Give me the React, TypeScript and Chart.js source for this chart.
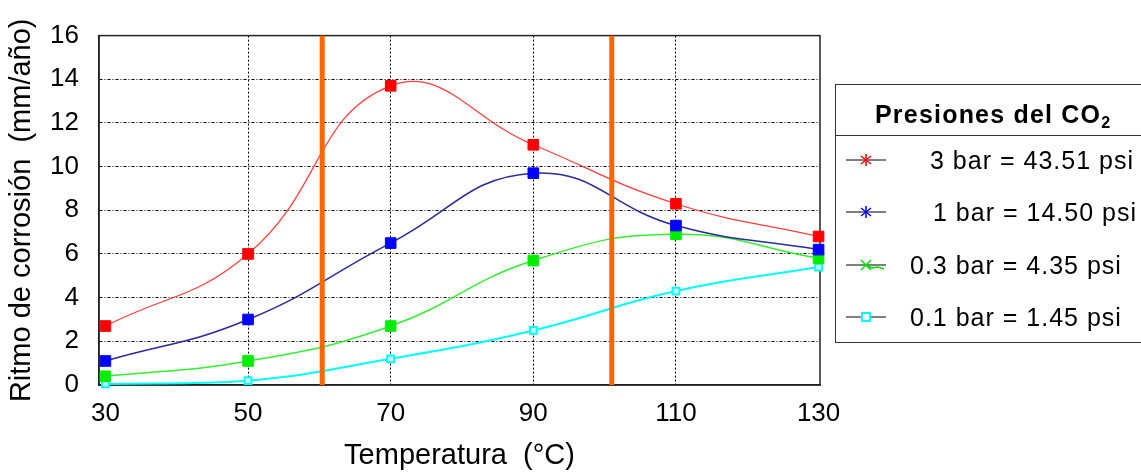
import React, { useEffect, useRef } from "react";
import { Chart, registerables } from "chart.js";

Chart.register(...registerables);

const temperatures = [30, 50, 70, 90, 110, 130];
const rate3bar = [2.7, 6.0, 13.7, 11.0, 8.3, 6.8];
const rate1bar = [1.1, 3.0, 6.5, 9.7, 7.3, 6.2];
const rate03bar = [0.4, 1.1, 2.7, 5.7, 6.9, 5.8];
const rate01bar = [0.05, 0.2, 1.2, 2.5, 4.3, 5.4];
const bandLimits = [60.4, 101];
const xTicks = [30, 50, 70, 90, 110, 130];
const yTicks = [0, 2, 4, 6, 8, 10, 12, 14, 16];
const seriesLabels = ["3 bar = 43.51 psi", "1 bar = 14.50 psi", "0.3 bar = 4.35 psi", "0.1 bar = 1.45 psi"];
const legendTitle = "Presiones del CO";
const legendTitleSub = "2";
const xTitle = "Temperatura  (°C)";
const yTitle = "Ritmo de corrosión  (mm/año)";

const FONT = "'Liberation Sans', Arial, Helvetica, sans-serif";

const boxPlugin = {
  id: "plotBox",
  beforeDatasetsDraw(chart: any) {
    const { ctx, chartArea } = chart;
    const { left, top, right, bottom } = chartArea;
    ctx.save();
    ctx.strokeStyle = "#222";
    ctx.lineWidth = 1.5;
    ctx.strokeRect(left, top, right - left, bottom - top);
    ctx.restore();
  },
};

function LegendSymbol({ kind }: { kind: number }) {
  const colors = ["#ff0000", "#0000ff", "#00dd00", "#00ffff"];
  const c = colors[kind];
  return (
    <svg width={40} height={20} style={{ display: "block" }}>
      <line x1={0} y1={10} x2={40} y2={10} stroke="#000" strokeWidth={1} />
      {kind < 2 && (
        <g stroke={c} strokeWidth={1.5}>
          <line x1={20} y1={4} x2={20} y2={16} />
          <line x1={15} y1={6} x2={25} y2={14} />
          <line x1={15} y1={14} x2={25} y2={6} />
        </g>
      )}
      {kind === 2 && (
        <g stroke={c} strokeWidth={1.5} fill="none">
          <line x1={15} y1={5} x2={25} y2={15} />
          <line x1={15} y1={15} x2={25} y2={5} />
          <polyline points="20,10 26,13 32,12 38,14" />
        </g>
      )}
      {kind === 3 && <rect x={16} y={6} width={8} height={8} fill="#fff" stroke={c} strokeWidth={2} />}
    </svg>
  );
}

export default function App() {
  const ref = useRef<HTMLCanvasElement>(null);

  useEffect(() => {
    const canvas = ref.current;
    if (!canvas) return;
    const mk = (arr: number[]) => temperatures.map((t, i) => ({ x: t, y: arr[i] }));
    const series = [
      { data: rate3bar, line: "#ff3b3b", point: "#ff0000", width: 1.2 },
      { data: rate1bar, line: "#2b2b99", point: "#0000ff", width: 1.5 },
      { data: rate03bar, line: "#33ee33", point: "#00ee00", width: 1.5 },
    ];
    const chart = new Chart(canvas, {
      type: "line",
      data: {
        datasets: [
          ...bandLimits.map((v) => ({
            label: "limit",
            data: [
              { x: v, y: yTicks[0] },
              { x: v, y: yTicks[yTicks.length - 1] },
            ],
            borderColor: "#ff6600",
            borderWidth: 5,
            pointRadius: 0,
            tension: 0,
            borderCapStyle: "butt" as const,
            order: 0,
          })),
          ...series.map((s, i) => ({
            label: seriesLabels[i],
            data: mk(s.data),
            borderColor: s.line,
            borderWidth: s.width,
            pointStyle: "rect" as const,
            pointRadius: 7.5,
            pointBackgroundColor: s.point,
            pointBorderColor: s.point,
            pointBorderWidth: 1,
            tension: 0.45,
            clip: false as any,
            order: 1 + i,
          })),
          {
            label: seriesLabels[3],
            data: mk(rate01bar),
            borderColor: "#00ffff",
            borderWidth: 2,
            pointStyle: "rect" as const,
            pointRadius: 4.8,
            pointBackgroundColor: "#ccffff",
            pointBorderColor: "#00ffff",
            pointBorderWidth: 2,
            tension: 0.45,
            clip: false as any,
            order: 4,
          },
        ],
      },
      options: {
        animation: false,
        responsive: false,
        devicePixelRatio: 1,
        layout: { padding: { left: 0, top: 33, right: 321, bottom: 0 } },
        plugins: { legend: { display: false }, tooltip: { enabled: false } },
        scales: {
          x: {
            type: "linear",
            min: 29.1,
            max: 130.2,
            afterBuildTicks: (s: any) => {
              s.ticks = xTicks.map((v) => ({ value: v }));
            },
            afterFit: (s: any) => {
              s.height = 88;
            },
            grid: {
              drawTicks: false,
              lineWidth: 1,
              color: (c: any) =>
                c.tick && (c.tick.value === xTicks[0] || c.tick.value === xTicks[xTicks.length - 1])
                  ? "rgba(0,0,0,0)"
                  : "#000",
            },
            border: { display: true, color: "#222", width: 1.5, dash: [2, 2] },
            ticks: {
              color: "#000",
              padding: 13,
              font: { family: FONT, size: 26 },
              maxRotation: 0,
              autoSkip: false,
            },
            title: {
              display: true,
              text: xTitle,
              color: "#000",
              font: { family: FONT, size: 29 },
              padding: { top: 0, bottom: 0 },
            },
          },
          y: {
            type: "linear",
            min: yTicks[0],
            max: yTicks[yTicks.length - 1],
            afterBuildTicks: (s: any) => {
              s.ticks = yTicks.map((v) => ({ value: v }));
            },
            afterFit: (s: any) => {
              s.width = 99;
            },
            grid: {
              drawTicks: false,
              lineWidth: 1,
              color: (c: any) =>
                c.tick && (c.tick.value === yTicks[0] || c.tick.value === yTicks[yTicks.length - 1])
                  ? "rgba(0,0,0,0)"
                  : "#000",
            },
            border: { display: true, color: "#222", width: 1.5, dash: [3, 2, 1, 2] },
            ticks: {
              color: "#000",
              padding: 20,
              font: { family: FONT, size: 26 },
            },
            title: {
              display: true,
              text: yTitle,
              color: "#000",
              font: { family: FONT, size: 29 },
              padding: { top: 5, bottom: 0 },
            },
          },
        },
      },
      plugins: [boxPlugin],
    } as any);
    return () => chart.destroy();
  }, []);

  const rowTops = [148, 200, 253, 305];
  const rowLefts = [930, 933, 910, 910];

  return (
    <div
      style={{
        position: "fixed",
        left: 0,
        top: 0,
        width: 1141,
        height: 473,
        overflow: "hidden",
        background: "#fff",
      }}
    >
      <canvas ref={ref} width={1141} height={473} style={{ display: "block" }} />
      <div
        style={{
          position: "absolute",
          left: 835,
          top: 84,
          width: 330,
          height: 259,
          border: "1.5px solid #333",
          boxSizing: "border-box",
        }}
      >
        <div
          style={{
            position: "absolute",
            left: 0,
            top: 0,
            width: "100%",
            height: 51,
            borderBottom: "1.5px solid #333",
            boxSizing: "border-box",
          }}
        />
      </div>
      <div
        style={{
          position: "absolute",
          left: 875,
          top: 102,
          fontFamily: FONT,
          fontWeight: "bold",
          fontSize: 25,
          lineHeight: "25px",
          letterSpacing: 1.2,
          color: "#000",
          whiteSpace: "nowrap",
        }}
      >
        {legendTitle}
        <sub style={{ fontSize: 16, lineHeight: "16px", verticalAlign: -5 }}>{legendTitleSub}</sub>
      </div>
      {seriesLabels.map((lab, i) => (
        <React.Fragment key={lab}>
          <div style={{ position: "absolute", left: 846, top: rowTops[i] + 2 }}>
            <LegendSymbol kind={i} />
          </div>
          <div
            style={{
              position: "absolute",
              left: rowLefts[i],
              top: rowTops[i],
              fontFamily: FONT,
              fontSize: 25,
              lineHeight: "25px",
              letterSpacing: 1,
              color: "#000",
              whiteSpace: "pre",
            }}
          >
            {lab}
          </div>
        </React.Fragment>
      ))}
    </div>
  );
}
